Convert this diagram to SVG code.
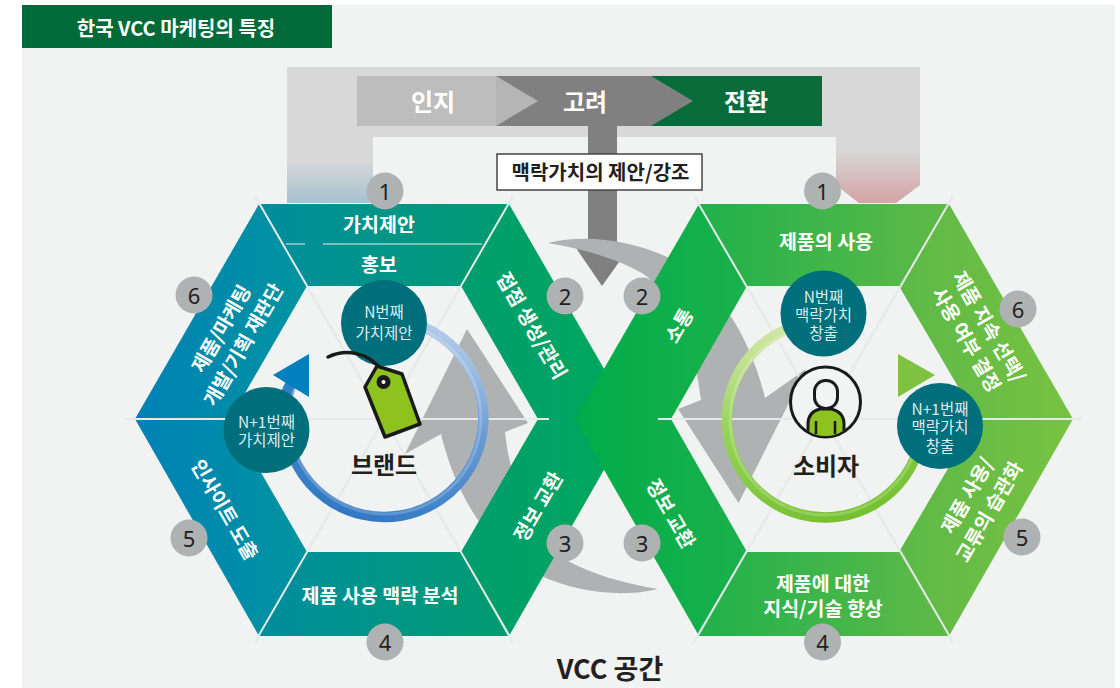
<svg xmlns="http://www.w3.org/2000/svg" width="1120" height="688" viewBox="0 0 1120 688">
<style>
text{font-family:"Noto Sans CJK KR","Noto Sans",sans-serif;text-anchor:middle;dominant-baseline:central}
.seg{fill:#fff;font-weight:700;font-size:19.5px}
.cir{fill:#dcecee;font-size:15.5px}
.num{fill:#231f20;font-size:22px;font-family:"Noto Sans",sans-serif}
.nc{fill:#afb2b2}
.tc{fill:#006f7c}
.sp{stroke:#e6e8e9;stroke-width:2;fill:none}
.bar{fill:#fff;font-weight:700;font-size:24px}
.big{fill:#231f20;font-weight:700;font-size:24px}
</style>
<defs>
<linearGradient id="gTB" x1="0" x2="1" y1="0" y2="0"><stop offset="0" stop-color="#008d9f"/><stop offset="1" stop-color="#009c6f"/></linearGradient>
<linearGradient id="gL" x1="0" x2="1" y1="0" y2="0"><stop offset="0" stop-color="#0081b6"/><stop offset="1" stop-color="#00949f"/></linearGradient>
<linearGradient id="gLR" x1="0" x2="1" y1="0" y2="0"><stop offset="0" stop-color="#009d6e"/><stop offset="1" stop-color="#00a95a"/></linearGradient>
<linearGradient id="gRL" x1="0" x2="1" y1="0" y2="0"><stop offset="0" stop-color="#00ac4a"/><stop offset="1" stop-color="#1bb14c"/></linearGradient>
<linearGradient id="gRT" x1="0" x2="1" y1="0" y2="0"><stop offset="0" stop-color="#20b14c"/><stop offset="1" stop-color="#60ba47"/></linearGradient>
<linearGradient id="gRR" x1="0" x2="1" y1="0" y2="0"><stop offset="0" stop-color="#5cb947"/><stop offset="1" stop-color="#78c242"/></linearGradient>
<linearGradient id="gBlue" x1="0" x2="0" y1="160" y2="203" gradientUnits="userSpaceOnUse"><stop offset="0" stop-color="#d8d8d8"/><stop offset="1" stop-color="#a6c2d1"/></linearGradient>
<linearGradient id="gRed" x1="0" x2="0" y1="150" y2="203" gradientUnits="userSpaceOnUse"><stop offset="0" stop-color="#d8d8d8"/><stop offset="1" stop-color="#d4a3a4"/></linearGradient>
<linearGradient id="ringB" x1="430" y1="320" x2="350" y2="520" gradientUnits="userSpaceOnUse"><stop offset="0" stop-color="#b5cdea"/><stop offset=".4" stop-color="#6a9cd6"/><stop offset="1" stop-color="#2f77c2"/></linearGradient>
<linearGradient id="ringG" x1="790" y1="320" x2="850" y2="520" gradientUnits="userSpaceOnUse"><stop offset="0" stop-color="#d3e7a8"/><stop offset=".4" stop-color="#98d45a"/><stop offset="1" stop-color="#74c02f"/></linearGradient>
<clipPath id="pc"><circle cx="825.5" cy="402" r="34"/></clipPath>
</defs>
<rect width="1120" height="688" fill="#fff"/>
<rect x="22" y="5" width="1093" height="683" fill="#f1f3f2"/>
<g id="header"><rect x="22" y="5" width="310" height="43" fill="#006b38"/><text x="176" y="27" fill="#fff" font-weight="700" font-size="20">한국 VCC 마케팅의 특징</text></g>
<g id="connectors">
<path d="M287,67H920V137H373V203H287Z" fill="#d8d8d8"/>
<path d="M287,160H373V203H287Z" fill="url(#gBlue)"/>
<path d="M836,137H920V185L896,203H859L836,185Z" fill="#d8d8d8"/>
<path d="M836,150H920V185L896,203H859L836,185Z" fill="url(#gRed)"/>
<path d="M588,126H617V248H629L602,286L576,248H588Z" fill="#808080"/>
<path d="M548,243C585,234 630,240 667,257C715,280 750,335 765,398L806,369L738.6,503L678,409L701,400C695,340 665,285 640,272C615,258 580,248 548,243Z" fill="#afb2b2"/>
<path d="M658,589C621,598 576,592 539,575C491,552 456,497 441,434L405,454L467,329L528,423L505,432C511,492 541,547 566,560C591,574 626,584 658,589Z" fill="#afb2b2"/>
</g>
<g id="stage-bar">
<rect x="357" y="76" width="139" height="50" fill="#bdbdbd"/>
<rect x="496" y="76" width="155" height="50" fill="#808080"/>
<rect x="651" y="76" width="171" height="50" fill="#076b3a"/>
<path d="M496,76L538,101L496,126Z" fill="#b5b5b5"/>
<path d="M651,76L693,101L651,126Z" fill="#808080"/>
<text class="bar" x="433" y="100">인지</text>
<text class="bar" x="585" y="100">고려</text>
<text class="bar" x="746" y="100">전환</text>
</g>
<g id="context-label"><rect x="497" y="154" width="205" height="36" fill="#fff" stroke="#444" stroke-width="1.5"/><text x="600.5" y="171" fill="#231f20" font-weight="700" font-size="20">맥락가치의 제안/강조</text></g>
<g id="brand-hex">
<path d="M259,204H509L461,286H307Z" fill="url(#gTB)"/>
<path d="M307,552H461L508,636H259Z" fill="url(#gTB)"/>
<path d="M259,204L307,286L230,419H135Z" fill="url(#gL)"/>
<path d="M135,419H230L307,552L259,636Z" fill="url(#gL)"/>
<path d="M509,204L461,286L538,419H633Z" fill="url(#gLR)"/>
<path d="M509,636L461,552L538,419H633Z" fill="url(#gLR)"/>
</g>
<g id="consumer-hex">
<path d="M699,204H949L899,286H747Z" fill="url(#gRT)"/>
<path d="M747,552H899L949,636H699Z" fill="url(#gRT)"/>
<path d="M699,204L747,286L671,419H575Z" fill="url(#gRL)"/>
<path d="M575,419H671L747,552L699,636Z" fill="url(#gRL)"/>
<path d="M949,204L899,286L977,419H1073Z" fill="url(#gRR)"/>
<path d="M1073,419H977L899,552L949,636Z" fill="url(#gRR)"/>
</g>
<g id="spokes">
<path class="sp" d="M125,419H549M255,196L513,642M513,196L255,642"/>
<path class="sp" d="M658,419H1082M694,196L953,642M953,196L694,642"/>
<path d="M286,244H305M323,244H482" stroke="#e8f2f0" stroke-width="1.2" fill="none"/>
</g>
<g id="brand-ring">
<path d="M384,319A99,99 0 1 1 291,385" fill="none" stroke="url(#ringB)" stroke-width="10.5"/>
<path d="M384,322A96,96 0 1 1 294,387" fill="none" stroke="#fff" stroke-opacity=".2" stroke-width="3"/>
<path d="M284,400Q286,390 296,374" fill="none" stroke="#2c80c4" stroke-width="10"/>
<path d="M273,375L309,354V397Z" fill="#0080bd"/>
</g>
<g id="consumer-ring">
<path d="M823.5,321.5A98,98 0 1 0 921,400" fill="none" stroke="url(#ringG)" stroke-width="10.5"/>
<path d="M823.5,325A95,95 0 1 0 918,400" fill="none" stroke="#fff" stroke-opacity=".2" stroke-width="3"/>
<path d="M898,354L935,375L898,397Z" fill="#7fc241"/>
</g>
<g id="person">
<circle cx="825.5" cy="402" r="35" fill="#f2f4f3" stroke="#1a1a1a" stroke-width="3"/>
<path clip-path="url(#pc)" d="M808,440V424Q808,412 820,409H831Q844,412 844,424V440Z" fill="#8dc21f" stroke="#1a1a1a" stroke-width="3"/>
<rect x="814.5" y="380.5" width="23" height="28" rx="11" fill="#f2f4f3" stroke="#1a1a1a" stroke-width="3"/>
<path d="M816,421V434M835,421V434" stroke="#1a1a1a" stroke-width="2.5"/>
</g>
<g id="n-brand"><circle class="tc" cx="384" cy="323" r="43"/><text class="cir" x="384" y="311">N번째</text><text class="cir" x="384" y="332">가치제안</text></g>
<g id="n1-brand"><circle class="tc" cx="266.5" cy="430" r="43"/><text class="cir" x="266.5" y="421">N+1번째</text><text class="cir" x="266.5" y="439">가치제안</text></g>
<g id="n-cons"><circle class="tc" cx="823.5" cy="313.5" r="43"/><text class="cir" x="823.5" y="296">N번째</text><text class="cir" x="823.5" y="314">맥락가치</text><text class="cir" x="823.5" y="332">창출</text></g>
<g id="n1-cons"><circle class="tc" cx="940" cy="426" r="43"/><text class="cir" x="940" y="408">N+1번째</text><text class="cir" x="940" y="426">맥락가치</text><text class="cir" x="940" y="445">창출</text></g>
<g id="tag">
<path d="M328,357C345,349 368,351 383,372" fill="none" stroke="#1a1a1a" stroke-width="3.5" stroke-linecap="round"/>
<path d="M377,366L402,374L420,424L385,437L365,387Z" fill="#8dc21f" stroke="#1a1a1a" stroke-width="3.5" stroke-linejoin="round"/>
<circle cx="383.5" cy="382" r="7" fill="#1a1a1a"/><circle cx="383.5" cy="382" r="2" fill="#fff"/>
</g>
<g id="labels">
<text class="seg" x="379" y="223">가치제안</text>
<text class="seg" x="379" y="263">홍보</text>
<text class="seg" x="380" y="594">제품 사용 맥락 분석</text>
<text class="seg" transform="translate(220,328) rotate(-60)">제품/마케팅</text>
<text class="seg" transform="translate(242,344) rotate(-60)">개발/기획 재판단</text>
<text class="seg" transform="translate(226,509) rotate(60)">인사이트 도출</text>
<text class="seg" transform="translate(533,325) rotate(60)">접점 생성/관리</text>
<text class="seg" transform="translate(537,506) rotate(-60)">정보 교환</text>
<text class="seg" transform="translate(678,325) rotate(-60)">소통</text>
<text class="seg" transform="translate(672,513) rotate(60)">정보 교환</text>
<text class="seg" x="826" y="240">제품의 사용</text>
<text class="seg" x="823" y="582">제품에 대한</text>
<text class="seg" x="823" y="607">지식/기술 향상</text>
<text class="seg" transform="translate(990,326) rotate(60)">제품 지속 선택/</text>
<text class="seg" transform="translate(967.5,339) rotate(60)">사용 여부 결정</text>
<text class="seg" transform="translate(966,495) rotate(-60)">제품 사용/</text>
<text class="seg" transform="translate(988,511) rotate(-60)">교류의 습관화</text>
<text class="big" x="384" y="463">브랜드</text>
<text class="big" x="826" y="464">소비자</text>
<text class="big" x="610" y="667" style="font-size:27px">VCC 공간</text>
</g>
<g id="num1l"><circle class="nc" cx="385" cy="191" r="18.5"/><text class="num" x="385" y="191">1</text></g>
<g id="num2l"><circle class="nc" cx="565" cy="296" r="18.5"/><text class="num" x="565" y="296">2</text></g>
<g id="num3l"><circle class="nc" cx="565" cy="543" r="18.5"/><text class="num" x="565" y="543">3</text></g>
<g id="num4l"><circle class="nc" cx="385" cy="642" r="18.5"/><text class="num" x="385" y="642">4</text></g>
<g id="num5l"><circle class="nc" cx="189" cy="538" r="18.5"/><text class="num" x="189" y="538">5</text></g>
<g id="num6l"><circle class="nc" cx="194" cy="295" r="18.5"/><text class="num" x="194" y="295">6</text></g>
<g id="num1r"><circle class="nc" cx="822.5" cy="191" r="18.5"/><text class="num" x="822.5" y="191">1</text></g>
<g id="num2r"><circle class="nc" cx="642" cy="296" r="18.5"/><text class="num" x="642" y="296">2</text></g>
<g id="num3r"><circle class="nc" cx="642" cy="543" r="18.5"/><text class="num" x="642" y="543">3</text></g>
<g id="num4r"><circle class="nc" cx="822.5" cy="642" r="18.5"/><text class="num" x="822.5" y="642">4</text></g>
<g id="num5r"><circle class="nc" cx="1022" cy="537" r="18.5"/><text class="num" x="1022" y="537">5</text></g>
<g id="num6r"><circle class="nc" cx="1018" cy="309" r="18.5"/><text class="num" x="1018" y="309">6</text></g>
</svg>
